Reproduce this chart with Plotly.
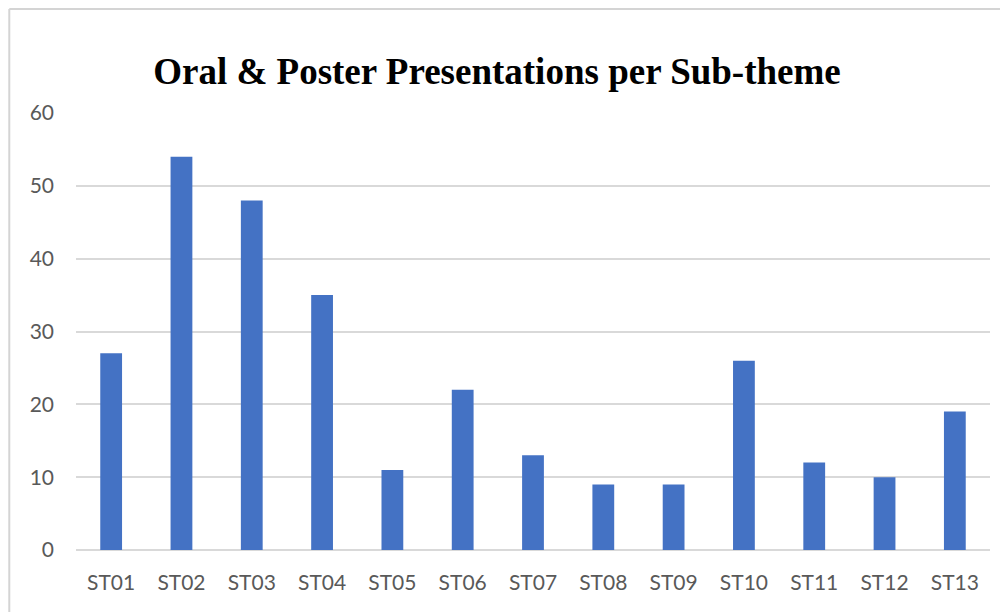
import plotly.graph_objects as go

categories = ["ST01", "ST02", "ST03", "ST04", "ST05", "ST06", "ST07",
              "ST08", "ST09", "ST10", "ST11", "ST12", "ST13"]
values = [27, 54, 48, 35, 11, 22, 13, 9, 9, 26, 12, 10, 19]
y_ticks = [0, 10, 20, 30, 40, 50, 60]
title_text = "Oral &amp; Poster Presentations per Sub-theme"

fig = go.Figure()
fig.add_trace(go.Bar(
    x=categories, y=values,
    marker=dict(color="#4472C4", line=dict(width=0)),
))

fig.update_layout(
    width=1000, height=604,
    margin=dict(l=68, r=18, t=105, b=62),
    paper_bgcolor="white", plot_bgcolor="white",
    bargap=0.69,
    showlegend=False,
    title=dict(
        text="<b>" + title_text + "</b>",
        font=dict(family="Liberation Serif", size=37, color="black"),
        x=0.489, xanchor="center", y=0.895, yanchor="middle",
    ),
    xaxis=dict(
        showgrid=False, showline=False, zeroline=False,
        tickfont=dict(family="Lato", size=21, color="#595959"),
        ticks="", ticklabelstandoff=18,
    ),
    yaxis=dict(
        range=[0, 60], tickvals=y_ticks,
        showgrid=True, gridcolor="#D9D9D9", gridwidth=1.5,
        zeroline=True, zerolinecolor="#D9D9D9", zerolinewidth=1.5,
        showline=False, ticks="",
        tickfont=dict(family="Lato", size=21, color="#595959"),
        ticklabelstandoff=21,
    ),
    shapes=[
        dict(type="line", xref="paper", yref="paper", x0=-0.073, x1=1.03,
             y0=1.238, y1=1.238, line=dict(color="#D4D4D4", width=2)),
        dict(type="line", xref="paper", yref="paper", x0=-0.073, x1=-0.073,
             y0=1.238, y1=-0.2, line=dict(color="#D4D4D4", width=2)),
    ],
)

fig.write_html("out.html")
